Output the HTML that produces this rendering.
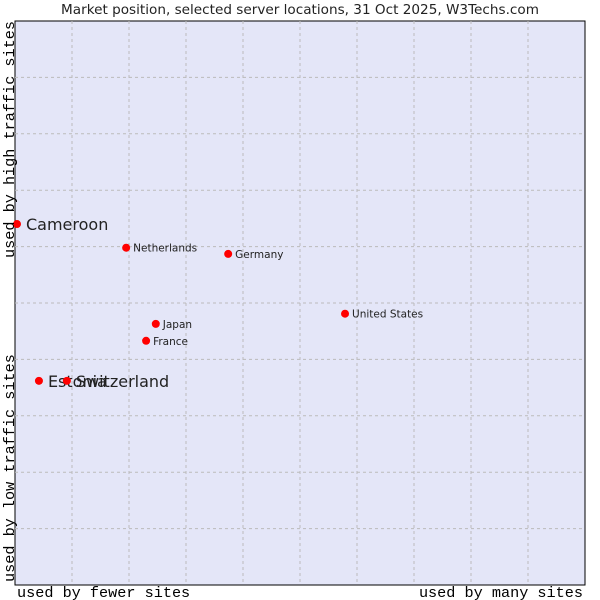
<!DOCTYPE html>
<html><head><meta charset="utf-8"><style>
html,body{margin:0;padding:0;background:#fff;}
svg{display:block;}
</style></head><body>
<svg id="chart" width="600" height="600" xmlns="http://www.w3.org/2000/svg">
<rect x="0" y="0" width="600" height="600" fill="#fff"/>
<text x="300" y="14" text-anchor="middle" font-family="DejaVu Sans, sans-serif" font-size="13.6" fill="#222">Market position, selected server locations, 31 Oct 2025, W3Techs.com</text>
<rect x="15" y="21" width="570" height="564" fill="#e4e6f8" stroke="#000" stroke-width="1"/>
<g id="grid"></g>
<g id="points"></g>
<text x="17" y="597" font-family="Liberation Mono, monospace" font-size="15.2" fill="#000">used by fewer sites</text>
<text x="583" y="597" text-anchor="end" font-family="Liberation Mono, monospace" font-size="15.2" fill="#000">used by many sites</text>
<text transform="translate(14,582) rotate(-90)" font-family="Liberation Mono, monospace" font-size="15.2" fill="#000">used by low traffic sites</text>
<text transform="translate(14,21) rotate(-90)" text-anchor="end" font-family="Liberation Mono, monospace" font-size="15.2" fill="#000">used by high traffic sites</text>
</svg>
<script>
const names = ["Cameroon","Netherlands","Germany","United States","Japan","France","Estonia","Switzerland"];
const xValues = [0.35,19.5,37.4,57.9,24.7,23.0,4.2,9.1];
const yValues = [64.0,59.8,58.7,48.1,46.3,43.3,36.2,36.2];
const bigLabel = [true,false,false,false,false,false,true,true];
const gridTicks = [10,20,30,40,50,60,70,80,90];

const L=15,R=585,T=21,B=585;
const sx=v=>L+v/100*(R-L);
const sy=v=>B-v/100*(B-T);
const NS="http://www.w3.org/2000/svg";
const grid=document.getElementById('grid');
gridTicks.forEach(t=>{
  const v=document.createElementNS(NS,'line');
  v.setAttribute('x1',sx(t));v.setAttribute('x2',sx(t));v.setAttribute('y1',T);v.setAttribute('y2',B);
  v.setAttribute('stroke','#bbb');v.setAttribute('stroke-dasharray','3,3');
  
  
  grid.appendChild(v);
  const h=document.createElementNS(NS,'line');
  h.setAttribute('x1',L);h.setAttribute('x2',R);h.setAttribute('y1',sy(t));h.setAttribute('y2',sy(t));
  h.setAttribute('stroke','#bbb');h.setAttribute('stroke-dasharray','3,3');
  
  
  grid.appendChild(h);
});
const pts=document.getElementById('points');
names.forEach((n,i)=>{
  const x=sx(xValues[i]),y=sy(yValues[i]);
  const c=document.createElementNS(NS,'circle');
  c.setAttribute('cx',x);c.setAttribute('cy',y);c.setAttribute('r',4);c.setAttribute('fill','#f00');
  
  
  pts.appendChild(c);
  const t=document.createElementNS(NS,'text');
  t.setAttribute('x',x+(bigLabel[i]?9:7));
  t.setAttribute('y',y+(bigLabel[i]?6:4));
  t.setAttribute('font-family','DejaVu Sans, sans-serif');
  t.setAttribute('font-size',bigLabel[i]?16:10.5);
  t.setAttribute('fill','#222');
  t.textContent=n;
  
  
  pts.appendChild(t);
});
</script>
</body></html>
